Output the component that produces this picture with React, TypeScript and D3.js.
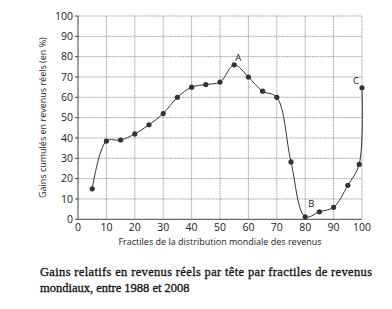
import React from "react";
import * as d3 from "d3";

const fractiles = [5, 10, 15, 20, 25, 30, 35, 40, 45, 50, 55, 60, 65, 70, 75, 80, 85, 90, 95, 99, 100];
const gains = [15, 38.5, 39, 42, 46.5, 52, 60, 65, 66.3, 67.5, 76, 70, 63, 60, 28.2, 1.2, 3.7, 5.9, 16.7, 27, 64.7];
const xTicks = [0, 10, 20, 30, 40, 50, 60, 70, 80, 90, 100];
const yTicks = [0, 10, 20, 30, 40, 50, 60, 70, 80, 90, 100];
const annotations = [
  { label: "A", x: 55, y: 76, dx: 4, dy: -4 },
  { label: "B", x: 80, y: 1.2, dx: 6, dy: -10 },
  { label: "C", x: 100, y: 64.7, dx: -6, dy: -4 },
];

export default function App() {
  const W = 392, H = 309;
  const left = 78, right = 362, top = 16, bottom = 219.3;
  const x = d3.scaleLinear().domain([0, 100]).range([left, right]);
  const y = d3.scaleLinear().domain([0, 100]).range([bottom, top]);
  const pts: [number, number][] = fractiles.map((f, i) => [x(f), y(gains[i])]);
  const line = d3.line().curve(d3.curveCatmullRom.alpha(0.5))(pts) || "";
  const sans = "'Open Sans', 'DejaVu Sans', sans-serif";
  return (
    <svg width={W} height={H} style={{ position: "absolute", left: 0, top: 0, background: "#fff" }}>
      <rect width={W} height={H} fill="#fff" />
      {xTicks.slice(1).map((t) => (
        <line key={"gx" + t} x1={x(t)} x2={x(t)} y1={top} y2={bottom} stroke="#9a9a9a" strokeWidth={0.8} strokeDasharray="2,0.6" />
      ))}
      {yTicks.slice(1).map((t) => (
        <line key={"gy" + t} x1={left} x2={right} y1={y(t)} y2={y(t)} stroke="#9a9a9a" strokeWidth={0.8} strokeDasharray="2,0.6" />
      ))}
      <line x1={left} x2={left} y1={top} y2={bottom} stroke="#444" strokeWidth={1} />
      <line x1={left} x2={right} y1={bottom} y2={bottom} stroke="#444" strokeWidth={1} />
      {yTicks.map((t) => (
        <g key={"ty" + t}>
          <line x1={left - 3} x2={left} y1={y(t)} y2={y(t)} stroke="#444" strokeWidth={1} />
          <text x={left - 5} y={y(t) + 3.7} textAnchor="end" fontSize={10.5} fontFamily={sans} fill="#222">{t}</text>
        </g>
      ))}
      {xTicks.map((t) => (
        <text key={"tx" + t} x={x(t)} y={231} textAnchor="middle" fontSize={10.5} fontFamily={sans} fill="#222">{t}</text>
      ))}
      <text transform={`translate(46, ${(top + bottom) / 2}) rotate(-90)`} textAnchor="middle" fontSize={9} fontFamily={sans} fill="#222">
        Gains cumulés en revenus réels (en %)
      </text>
      <text x={(left + right) / 2} y={245} textAnchor="middle" fontSize={9} fontFamily={sans} fill="#222">
        Fractiles de la distribution mondiale des revenus
      </text>
      <path d={line} fill="none" stroke="#333" strokeWidth={1} />
      {pts.map((p, i) => (
        <circle key={"p" + i} cx={p[0]} cy={p[1]} r={2.6} fill="#333" />
      ))}
      {annotations.map((a) => (
        <text key={a.label} x={x(a.x) + a.dx} y={y(a.y) + a.dy} textAnchor="middle" fontSize={9.5} fontFamily={sans} fill="#222">{a.label}</text>
      ))}
      <text x={40} y={276} fontSize={12.5} fontFamily="'Liberation Serif', serif" fill="#111" stroke="#111" strokeWidth={0.3} textLength={332} lengthAdjust="spacing">
        Gains relatifs en revenus réels par tête par fractiles  de revenus
      </text>
      <text x={40} y={292} fontSize={12.5} fontFamily="'Liberation Serif', serif" fill="#111" stroke="#111" strokeWidth={0.3}>
        mondiaux, entre 1988 et 2008
      </text>
    </svg>
  );
}
